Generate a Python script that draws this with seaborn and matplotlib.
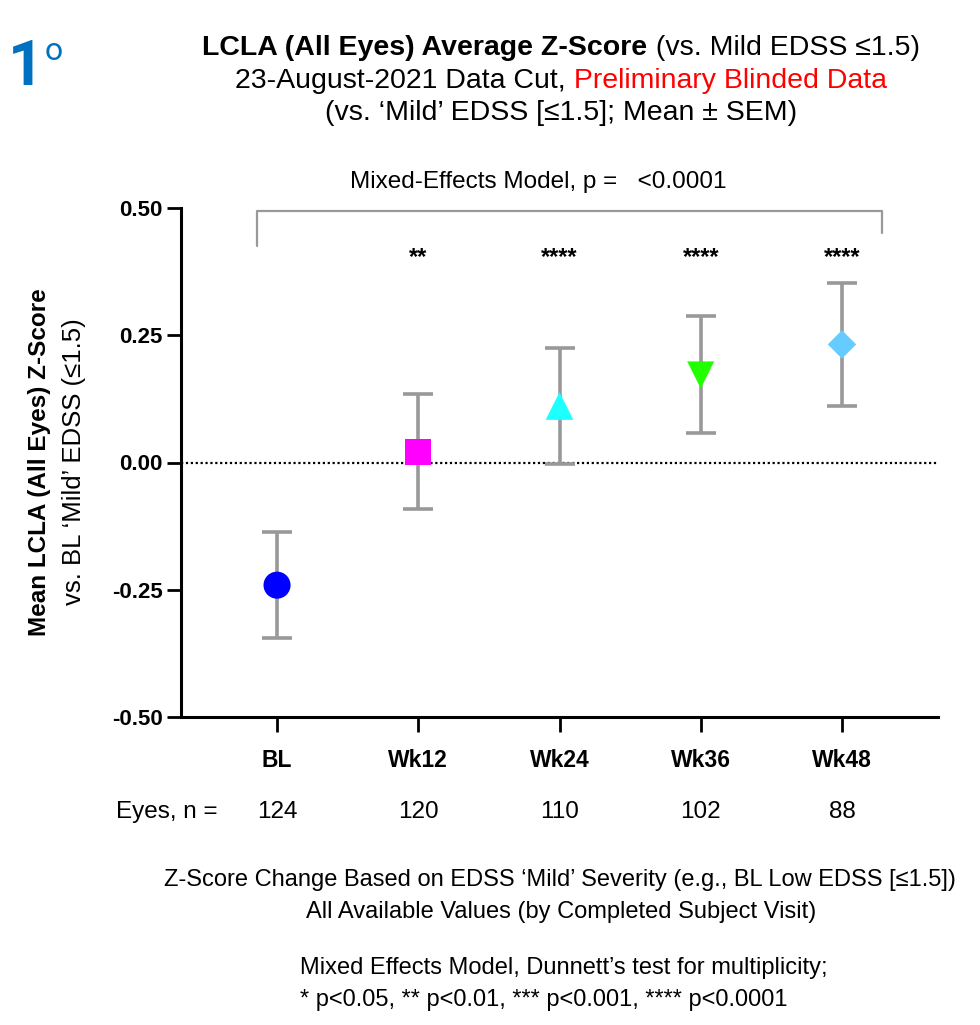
import numpy as np
import pandas as pd
import matplotlib
matplotlib.use('Agg')
import matplotlib.pyplot as plt
import matplotlib.transforms as mtransforms
import seaborn as sns

# 数据
visits = ['BL', 'Wk12', 'Wk24', 'Wk36', 'Wk48']
mean_z = [-0.241, 0.021, 0.111, 0.172, 0.232]
sem_z = [0.104, 0.113, 0.114, 0.115, 0.121]
eyes_n = [124, 120, 110, 102, 88]
sig_stars = ['', '**', '****', '****', '****']
y_ticks = [-0.50, -0.25, 0.00, 0.25, 0.50]

# 样式
point_colors = {'BL': '#0000FF', 'Wk12': '#FF00FF', 'Wk24': '#1EFFFF',
                'Wk36': '#22FF00', 'Wk48': '#66CCFF'}
point_markers = {'BL': 'o', 'Wk12': 's', 'Wk24': '^', 'Wk36': 'v', 'Wk48': 'D'}
point_sizes = {'BL': 380, 'Wk12': 340, 'Wk24': 400, 'Wk36': 380, 'Wk48': 210}

sns.set_style('ticks')
plt.rcParams['font.family'] = ['Liberation Sans', 'DejaVu Sans']
for key in ['text.color', 'axes.labelcolor', 'xtick.color', 'ytick.color', 'axes.edgecolor']:
    plt.rcParams[key] = 'black'

W, H = 980, 1025
fig = plt.figure(figsize=(W / 100, H / 100), dpi=100)
ax = fig.add_axes([181 / W, 1 - 717 / H, (938 - 181) / W, (717 - 208) / H])

df = pd.DataFrame({'visit': visits, 'mean': mean_z, 'sem': sem_z})

# 误差线 (Mean ± SEM)
ax.errorbar(df['visit'], df['mean'], yerr=df['sem'], fmt='none', ecolor='#999999',
            elinewidth=2.6, capsize=11, capthick=2.6, zorder=2)

# 均值点
sns.scatterplot(data=df, x='visit', y='mean', hue='visit', style='visit', size='visit',
                palette=point_colors, markers=point_markers, sizes=point_sizes,
                linewidth=0, legend=False, zorder=3, ax=ax)

ax.axhline(0, color='black', linestyle=(0, (1, 1.2)), linewidth=1.6, zorder=1)

ax.set_xlim(-0.68, 4.68)
ax.set_ylim(-0.5, 0.5)
ax.set_yticks(y_ticks)
ax.set_yticklabels([f'{v:.2f}' for v in y_ticks], fontsize=16, fontweight='bold')
ax.set_xticks(range(len(visits)))
ax.set_xticklabels(visits, fontsize=16.5, fontweight='bold')
ax.tick_params(axis='y', length=10, width=2, pad=3, color='black', labelcolor='black')
ax.tick_params(axis='x', length=11, width=2, pad=12, color='black', labelcolor='black')
ax.set_xlabel('')
ax.set_ylabel('')
sns.despine(ax=ax)
for side in ['left', 'bottom']:
    ax.spines[side].set_linewidth(2.2)
    ax.spines[side].set_color('black')

# 显著性标记
for i, s in enumerate(sig_stars):
    ax.text(i, 0.402, s, ha='center', va='center', fontsize=17, fontweight='bold')

# 括号
ax.plot([-0.144, -0.144, 4.283, 4.283], [0.425, 0.494, 0.494, 0.451],
        color='#999999', linewidth=1.6, clip_on=False)

# 样本数
xt = ax.get_xaxis_transform()
ax.text(-0.42, -0.187, 'Eyes, n =', transform=xt, ha='right', va='center', fontsize=17.5)
for i, n in enumerate(eyes_n):
    ax.text(i, -0.187, str(n), transform=xt, ha='center', va='center', fontsize=17.5)

# 文本工具 (像素坐标, 原点在左上)
pix = mtransforms.IdentityTransform()
renderer = fig.canvas.get_renderer()


def put_line(parts, cx, y, size, ha='center'):
    arts = []
    for txt, weight, color in parts:
        t = fig.text(0, 0, txt, fontsize=size, fontweight=weight, color=color,
                     transform=pix, ha='left', va='baseline')
        arts.append(t)
    widths = [t.get_window_extent(renderer).width for t in arts]
    x = cx - sum(widths) / 2 if ha == 'center' else cx
    for t, w in zip(arts, widths):
        t.set_position((x, H - y))
        x += w


put_line([('LCLA (All Eyes) Average Z-Score', 'bold', 'black'),
          (' (vs. Mild EDSS ≤1.5)', 'normal', 'black')], 561, 55, 20.5)
put_line([('23-August-2021 Data Cut,', 'normal', 'black'),
          (' Preliminary Blinded Data', 'normal', '#FF0000')], 561, 88, 20.5)
put_line([('(vs. ‘Mild’ EDSS [≤1.5]; Mean ± SEM)', 'normal', 'black')], 561, 120, 20.5)

put_line([('Mixed-Effects Model, p =   <0.0001', 'normal', 'black')], 538, 188, 17.5)

# 1° 标志
one = fig.text(8, H - 85, '1', transform=pix, fontsize=45, fontweight='bold', color='#0070C0',
               family=['Roboto', 'DejaVu Sans'], ha='left', va='baseline')
one_box = one.get_window_extent(renderer)
fig.text(one_box.x1 + 1, H - 60, 'o', transform=pix, fontsize=23, color='#0070C0',
         family=['Roboto', 'DejaVu Sans'], ha='left', va='baseline')

# Y 轴标题
fig.text(40, H - 462, 'Mean LCLA (All Eyes) Z-Score', transform=pix, rotation=90,
         fontsize=17.5, fontweight='bold', ha='center', va='center')
fig.text(74, H - 462, 'vs. BL ‘Mild’ EDSS (≤1.5)', transform=pix, rotation=90,
         fontsize=18.5, ha='center', va='center')

# 底部说明
put_line([('Z-Score Change Based on EDSS ‘Mild’ Severity (e.g., BL Low EDSS [≤1.5])',
           'normal', 'black')], 560, 886, 17)
put_line([('All Available Values (by Completed Subject Visit)', 'normal', 'black')], 561, 918, 17)
put_line([('Mixed Effects Model, Dunnett’s test for multiplicity;', 'normal', 'black')],
         300, 974, 17, ha='left')
put_line([('* p<0.05, ** p<0.01, *** p<0.001, **** p<0.0001', 'normal', 'black')],
         300, 1006, 17, ha='left')

fig.savefig('out.png', dpi=100)
